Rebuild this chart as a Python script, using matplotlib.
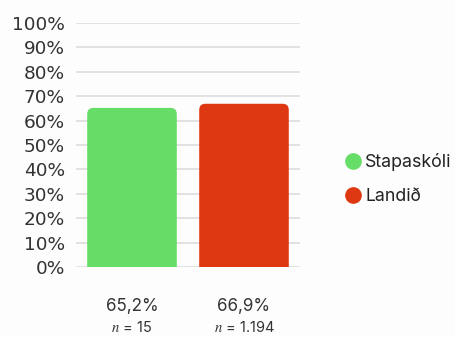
import matplotlib.pyplot as plt
from matplotlib.patches import FancyBboxPatch
from matplotlib.lines import Line2D

# Data
groups = ["Stapaskóli", "Landið"]
values = [65.2, 66.9]
value_labels = ["65,2%", "66,9%"]
n_labels = ["15", "1.194"]
colors = ["#66dd66", "#de3812"]
yticks = list(range(0, 101, 10))

plt.rcParams['mathtext.fontset'] = 'stix'

fig = plt.figure(figsize=(4.55, 3.37), dpi=100)
fig.patch.set_facecolor("#fdfdfd")
ax = fig.add_axes([76/455, 1 - 267/337, 224/455, 244/337])
ax.set_facecolor("#fdfdfd")

x = list(range(len(values)))
bars = ax.bar(x, values, width=0.80, color=colors)

# rounded top corners
for b, c in zip(bars, colors):
    b.set_visible(False)
    x0, y0 = b.get_x(), b.get_y()
    w, h = b.get_width(), b.get_height()
    p = FancyBboxPatch((x0, y0 - 5), w, h + 5,
                       boxstyle="round,pad=0,rounding_size=0.055",
                       mutation_aspect=45.9, fc=c, ec="none", zorder=3)
    ax.add_patch(p)

ax.set_xlim(-0.5, 1.5)
ax.set_ylim(0, 100)
ax.set_yticks(yticks)
ax.set_yticklabels([f"{t}%" for t in yticks], fontsize=13.3, color="#333333")
ax.tick_params(axis='y', length=0, pad=8)
ax.set_xticks([])
ax.grid(axis='y', color="#dddddd", linewidth=1.2, zorder=0)
ax.set_axisbelow(True)
for s in ax.spines.values():
    s.set_visible(False)

# labels under bars
for xi, vl, nl in zip(x, value_labels, n_labels):
    ax.annotate(vl, (xi, 0), xytext=(0, -40), textcoords="offset pixels",
                ha="center", va="center", fontsize=12.3, family="Inter", color="#333333")
    ax.annotate(f"$n$ = {nl}", (xi, 0), xytext=(0, -61), textcoords="offset pixels",
                ha="center", va="center", fontsize=10.5, family="Inter", color="#333333")

handles = [Line2D([], [], marker="o", linestyle="none", markersize=11,
                  markerfacecolor=c, markeredgecolor=c) for c in colors]
leg = fig.legend(handles, groups, loc="center left", bbox_to_anchor=(326/455, 1 - 179/337),
                 frameon=False, prop={"family": "Inter", "size": 12.8},
                 handletextpad=0.1, labelspacing=0.95, handlelength=1.2)
for t in leg.get_texts():
    t.set_color("#222222")

fig.savefig("out.png", dpi=100, facecolor=fig.get_facecolor())
